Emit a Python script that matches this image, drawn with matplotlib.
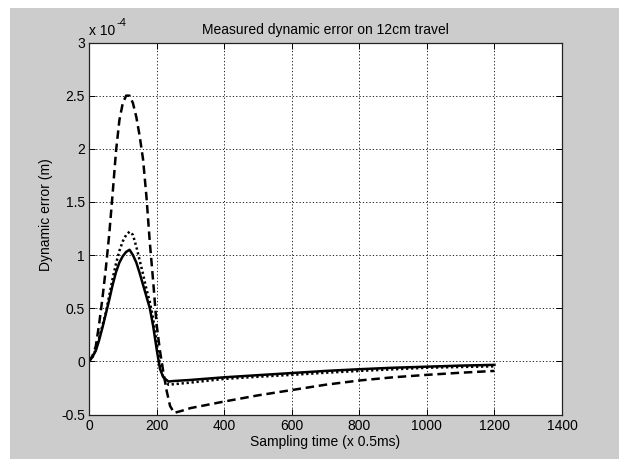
import numpy as np
import matplotlib
matplotlib.use("Agg")
import matplotlib.pyplot as plt
from matplotlib.patches import Rectangle

plt.rcParams['font.family'] = ['Liberation Sans', 'DejaVu Sans']

# data, values in units of 1e-4 m
x_dash = [0, 10, 20, 30, 40, 50, 60, 70, 80, 90, 100, 110, 120, 130, 140, 150,
          160, 170, 180, 190, 200, 210, 220, 230, 240, 252, 275, 300, 400, 500,
          600, 700, 800, 900, 1000, 1100, 1200]
y_dash = [0, 0.05, 0.14, 0.35, 0.6, 0.88, 1.2, 1.58, 1.98, 2.27, 2.43, 2.5, 2.5,
          2.43, 2.3, 2.12, 1.9, 1.55, 1.12, 0.75, 0.35, 0.1, -0.1, -0.28, -0.42,
          -0.485, -0.465, -0.44, -0.378, -0.32, -0.27, -0.22, -0.18, -0.15,
          -0.127, -0.107, -0.09]

x_dot = [0, 10, 20, 30, 40, 50, 60, 70, 80, 90, 100, 110, 120, 130, 140, 150,
         160, 170, 180, 190, 200, 210, 220, 235, 250, 300, 400, 500, 600, 700,
         800, 900, 1000, 1100, 1200]
y_dot = [0, 0.04, 0.11, 0.22, 0.34, 0.46, 0.62, 0.78, 0.92, 1.04, 1.13, 1.19,
         1.22, 1.19, 1.08, 0.95, 0.82, 0.68, 0.56, 0.4, 0.18, -0.03, -0.15,
         -0.22, -0.215, -0.2, -0.165, -0.145, -0.127, -0.107, -0.09, -0.075,
         -0.06, -0.053, -0.047]

x_solid = [0, 10, 20, 30, 40, 50, 60, 70, 80, 90, 100, 110, 120, 130, 140, 150,
           160, 170, 180, 190, 200, 210, 220, 235, 250, 300, 400, 500, 600, 700,
           800, 900, 1000, 1100, 1200]
y_solid = [0, 0.04, 0.1, 0.2, 0.32, 0.45, 0.58, 0.72, 0.84, 0.93, 0.99, 1.03,
           1.05, 1.0, 0.93, 0.83, 0.72, 0.61, 0.5, 0.33, 0.12, -0.07, -0.15,
           -0.19, -0.185, -0.175, -0.15, -0.13, -0.11, -0.09, -0.074, -0.06,
           -0.05, -0.04, -0.033]

x_ticks = [0, 200, 400, 600, 800, 1000, 1200, 1400]
y_ticks = [-0.5, 0, 0.5, 1, 1.5, 2, 2.5, 3]
y_ticklabels = ['-0.5', '0', '0.5', '1', '1.5', '2', '2.5', '3']

W, H = 619, 459
fig = plt.figure(figsize=(W / 100, H / 100), dpi=100, facecolor='white')
# grey figure area (white strip at top and left like the screenshot)
bg = Rectangle((10 / W, 0), 1, (H - 8) / H, transform=fig.transFigure,
               facecolor='#cccccc', edgecolor='none', zorder=-10)
fig.add_artist(bg)

ax = fig.add_axes([89 / W, (H - 414.5) / H, 473 / W, 372 / H])
ax.set_zorder(1)
ax.set_facecolor('white')

ax.plot(x_dash, y_dash, color='black', lw=1.8, linestyle=(0, (3.4, 1.9)))
ax.plot(x_dot, y_dot, color='black', lw=1.8, linestyle=(0, (0.9, 1.1)))
ax.plot(x_solid, y_solid, color='black', lw=1.8, linestyle='-')

ax.set_xlim(0, 1400)
ax.set_ylim(-0.5, 3)
ax.set_xticks(x_ticks)
ax.set_yticks(y_ticks)
ax.set_yticklabels(y_ticklabels)
ax.grid(True, color='black', linestyle=(0, (1.5, 2.5)), linewidth=0.6)
ax.tick_params(direction='in', length=4, width=0.7, top=True, right=True,
               labelsize=10, pad=3, colors='black')
for s in ax.spines.values():
    s.set_linewidth(0.9)
    s.set_color('#222222')

ax.set_title('Measured dynamic error on 12cm travel', fontsize=10, pad=6)
ax.set_xlabel('Sampling time (x 0.5ms)', fontsize=10, labelpad=2)
ax.set_ylabel('Dynamic error (m)', fontsize=10)
ax.yaxis.set_label_coords(-0.076, 0.536)

ax.text(0.0, 1.012, 'x 10', transform=ax.transAxes, fontsize=10,
        ha='left', va='bottom')
ax.text(0.058, 1.04, '-4', transform=ax.transAxes, fontsize=8,
        ha='left', va='bottom')

fig.savefig('out.png', dpi=100, facecolor=fig.get_facecolor())
